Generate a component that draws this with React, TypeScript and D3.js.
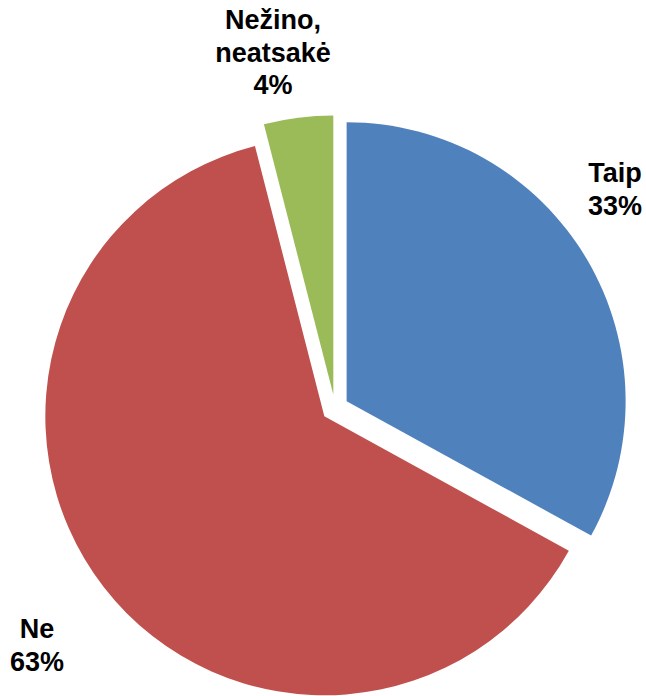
import React from "react";
import * as d3 from "d3";

const categories = ["Taip", "Ne", "Nežino, neatsakė"];
const values = [33, 63, 4];
const colors = ["#4F81BD", "#C0504D", "#9BBB59"];
const labelLines = [["Taip", "33%"], ["Ne", "63%"], ["Nežino,", "neatsakė", "4%"]];

const W = 646;
const H = 696;
const cx = 335;
const cy = 408;
const R = 279;
const explode = 13.5;
const fontSize = 27;
const lineH = 32.5;
// label anchor (center x, first baseline y)
const labelPos: [number, number][] = [[615, 182], [37, 638], [273, 29]];

export default function App() {
  const pie = d3.pie<number>().sort(null).value((d) => d)(values);
  const arc = d3.arc<d3.PieArcDatum<number>>().innerRadius(0).outerRadius(R);
  return (
    <svg width={W} height={H} style={{ position: "absolute", left: 0, top: 0, display: "block" }}>
      <rect width={W} height={H} fill="#fff" />
      {pie.map((p, i) => {
        const mid = (p.startAngle + p.endAngle) / 2;
        const dx = Math.sin(mid) * explode;
        const dy = -Math.cos(mid) * explode;
        return (
          <path key={categories[i]} d={arc(p) || ""} fill={colors[i]} transform={`translate(${cx + dx},${cy + dy})`} />
        );
      })}
      {labelLines.map((lines, i) => (
        <text
          key={i}
          x={labelPos[i][0]}
          y={labelPos[i][1]}
          textAnchor="middle"
          fontFamily="Liberation Sans, Arial, sans-serif"
          fontWeight="bold"
          fontSize={fontSize}
          fill="#000"
        >
          {lines.map((l, j) => (
            <tspan key={j} x={labelPos[i][0]} dy={j === 0 ? 0 : lineH}>
              {l}
            </tspan>
          ))}
        </text>
      ))}
    </svg>
  );
}
